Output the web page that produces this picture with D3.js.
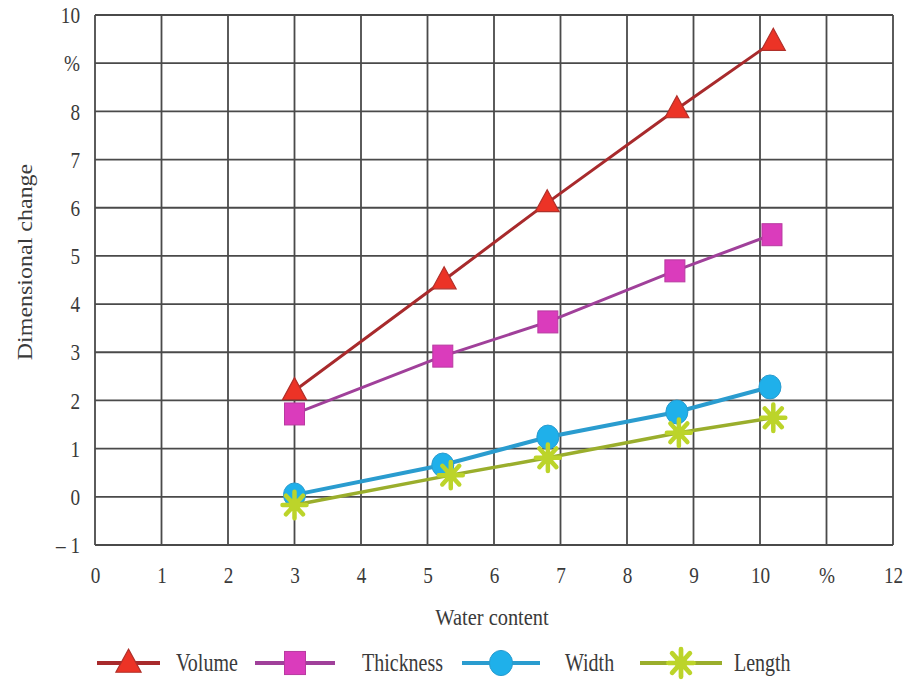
<!DOCTYPE html>
<html><head><meta charset="utf-8">
<script src="https://cdn.jsdelivr.net/npm/d3@7/dist/d3.min.js"></script>
<style>
html,body{margin:0;padding:0;background:#fff;}
svg{display:block;}
text{font-family:"Liberation Serif","DejaVu Serif",serif;fill:#3a3a3a;}
</style></head>
<body>
<svg id="chart" width="903" height="682"></svg>
<script>
// ---- data ----
const seriesNames = ["Volume", "Thickness", "Width", "Length"];
const volumeX    = [3.0, 5.25, 6.8, 8.75, 10.2];
const volumeY    = [2.2, 4.5, 6.1, 8.05, 9.45];
const thicknessX = [3.0, 5.23, 6.81, 8.72, 10.18];
const thicknessY = [1.72, 2.92, 3.63, 4.69, 5.44];
const widthX     = [3.0, 5.23, 6.81, 8.75, 10.15];
const widthY     = [0.04, 0.66, 1.24, 1.76, 2.28];
const lengthX    = [3.0, 5.35, 6.81, 8.78, 10.2];
const lengthY    = [-0.17, 0.45, 0.81, 1.33, 1.64];
const xTickValues = [0,1,2,3,4,5,6,7,8,9,10,11,12];
const xTickLabels = ["0","1","2","3","4","5","6","7","8","9","10","%","12"];
const yTickValues = [-1,0,1,2,3,4,5,6,7,8,9,10];
const yTickLabels = ["\u2013 1","0","1","2","3","4","5","6","7","8","%","10"];
const xTitle = "Water content";
const yTitle = "Dimensional change";

// ---- styles ----
const styles = {
  Volume:    {line:"#a82a2c", fill:"#ec3326", stroke:"#b0302a", lw:3,   shape:"triangle"},
  Thickness: {line:"#a0409a", fill:"#da3cbc", stroke:"#b83aa0", lw:3,   shape:"square"},
  Width:     {line:"#2a9ccf", fill:"#1fb0ea", stroke:"#2a9ccf", lw:4,   shape:"circle"},
  Length:    {line:"#9aae2c", fill:"#bcd42a", stroke:"#b2cc28", lw:3.5, shape:"star"}
};
const data = {
  Volume: volumeX.map((x,i)=>({x, y: volumeY[i]})),
  Thickness: thicknessX.map((x,i)=>({x, y: thicknessY[i]})),
  Width: widthX.map((x,i)=>({x, y: widthY[i]})),
  Length: lengthX.map((x,i)=>({x, y: lengthY[i]}))
};

const svg = d3.select("#chart");
const x = d3.scaleLinear().domain([0,12]).range([95,893]);
const y = d3.scaleLinear().domain([-1,10]).range([545,15]);

// grid
const grid = svg.append("g");
grid.selectAll("line.v").data(xTickValues).join("line")
  .attr("x1", d=>x(d)).attr("x2", d=>x(d)).attr("y1", y(10)).attr("y2", y(-1))
  .attr("stroke", "#4a4a4a").attr("stroke-width", 1.8);
grid.selectAll("line.h").data(yTickValues).join("line")
  .attr("y1", d=>y(d)).attr("y2", d=>y(d)).attr("x1", x(0)).attr("x2", x(12))
  .attr("stroke", "#4a4a4a").attr("stroke-width", 1.8);

// axes (labels only)
const xAxis = d3.axisBottom(x).tickValues(xTickValues).tickSize(0).tickPadding(0)
  .tickFormat((d,i)=>xTickLabels[i]);
const gx = svg.append("g").attr("transform", `translate(0,${y(-1)})`).call(xAxis);
gx.select(".domain").remove();
gx.selectAll("text").attr("font-size", 24).attr("y", 38).attr("dy", 0)
  .attr("transform", "scale(0.8,1)").attr("fill", "#3a3a3a")
  .attr("font-family", "Liberation Serif, serif");

const yAxis = d3.axisLeft(y).tickValues(yTickValues).tickSize(0).tickPadding(0)
  .tickFormat((d,i)=>yTickLabels[i]);
const gy = svg.append("g").attr("transform", `translate(${x(0)},0)`).call(yAxis);
gy.select(".domain").remove();
gy.selectAll("text").attr("font-size", 24).attr("x", -15/0.8).attr("dy", "0.32em")
  .attr("transform", "scale(0.8,1)").attr("fill", "#3a3a3a")
  .attr("font-family", "Liberation Serif, serif");

// axis titles
svg.append("text").attr("transform", `translate(492,625) scale(0.85,1)`)
  .attr("text-anchor", "middle").attr("font-size", 24).text(xTitle);
svg.append("text").attr("transform", `translate(32,262) rotate(-90) scale(1,0.85)`)
  .attr("text-anchor", "middle").attr("font-size", 24).text(yTitle);

// marker drawing
function drawMarker(g, shape, st, cx, cy, s) {
  s = s || 1;
  if (shape === "triangle") {
    const h = 22*s, w = 24*s;
    g.append("path").attr("d", `M${cx},${cy-h*0.6} L${cx+w/2},${cy+h*0.4} L${cx-w/2},${cy+h*0.4} Z`)
      .attr("fill", st.fill).attr("stroke", st.stroke).attr("stroke-width", 1.2);
  } else if (shape === "square") {
    const w = 20*s, h = 22*s;
    g.append("rect").attr("x", cx-w/2).attr("y", cy-h/2).attr("width", w).attr("height", h)
      .attr("fill", st.fill).attr("stroke", st.stroke).attr("stroke-width", 1);
  } else if (shape === "circle") {
    g.append("ellipse").attr("cx", cx).attr("cy", cy).attr("rx", 11*s).attr("ry", 12*s)
      .attr("fill", st.fill).attr("stroke", st.stroke).attr("stroke-width", 1);
  } else if (shape === "star") {
    const r = 12*s;
    let d = "";
    for (let k=0;k<4;k++){
      const a = k*Math.PI/4;
      d += `M${cx - r*Math.cos(a)},${cy - r*Math.sin(a)*1.1} L${cx + r*Math.cos(a)},${cy + r*Math.sin(a)*1.1} `;
    }
    g.append("path").attr("d", d).attr("stroke", st.fill).attr("stroke-width", 4.5*s)
      .attr("stroke-linecap", "round").attr("fill", "none");
    g.append("circle").attr("cx", cx).attr("cy", cy).attr("r", 6*s).attr("fill", st.fill);
  }
}

const line = d3.line().x(d=>x(d.x)).y(d=>y(d.y));
const plot = svg.append("g");
seriesNames.forEach(name=>{
  const st = styles[name];
  const g = plot.append("g");
  g.append("path").datum(data[name]).attr("d", line)
    .attr("fill", "none").attr("stroke", st.line).attr("stroke-width", st.lw);
  data[name].forEach(p=> drawMarker(g, st.shape, st, x(p.x), y(p.y), 1));
});

// legend
const legendItems = [
  {name:"Volume", x0:97, x1:160, tx:176},
  {name:"Thickness", x0:255, x1:335, tx:362},
  {name:"Width", x0:462, x1:540, tx:565},
  {name:"Length", x0:640, x1:722, tx:734}
];
const ly = 663;
const leg = svg.append("g");
legendItems.forEach(it=>{
  const st = styles[it.name];
  leg.append("line").attr("x1", it.x0).attr("x2", it.x1).attr("y1", ly).attr("y2", ly)
    .attr("stroke", st.line).attr("stroke-width", 4);
  drawMarker(leg, st.shape, st, (it.x0+it.x1)/2, ly, 1.05);
  leg.append("text").attr("transform", `translate(${it.tx},${ly+8}) scale(0.8,1)`)
    .attr("font-size", 25).text(it.name);
});
</script>
</body></html>
